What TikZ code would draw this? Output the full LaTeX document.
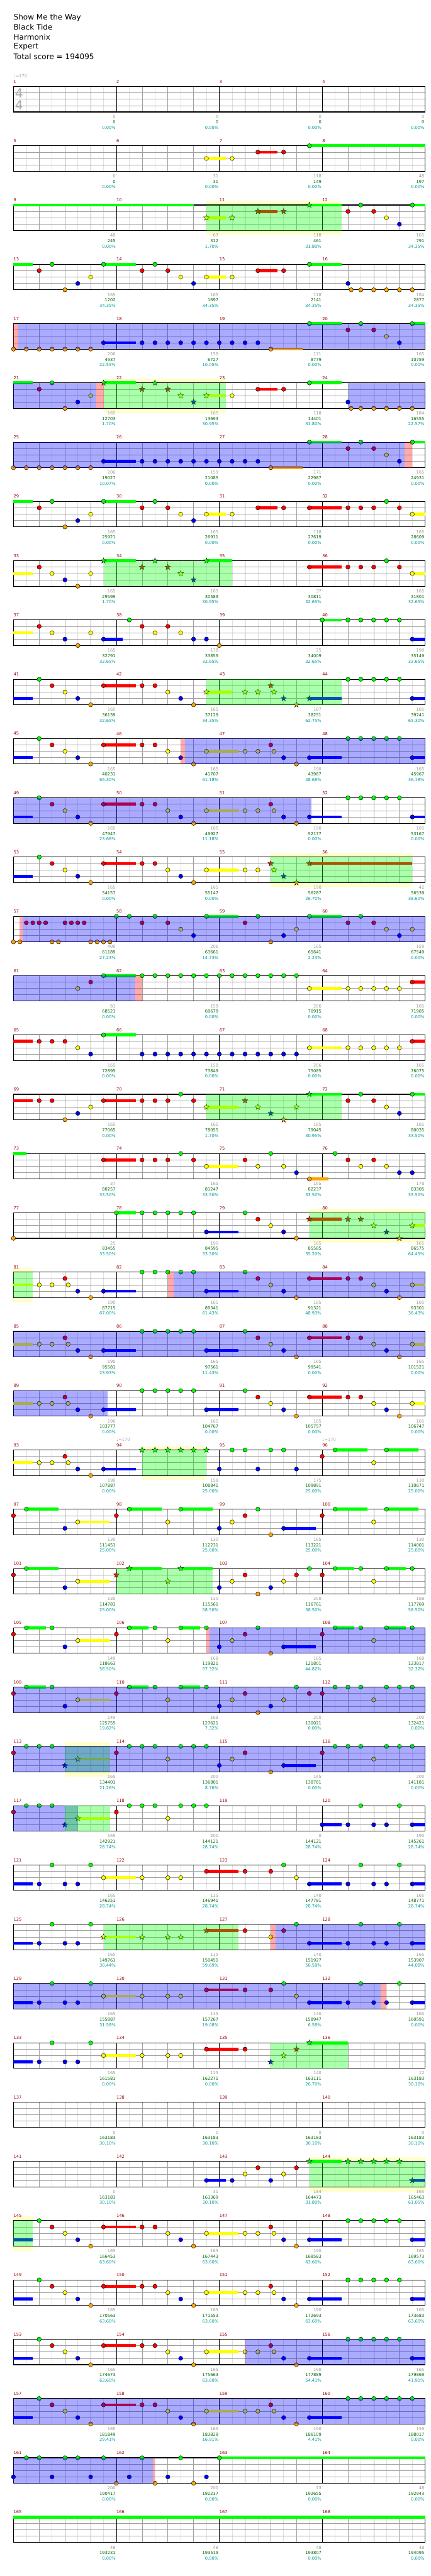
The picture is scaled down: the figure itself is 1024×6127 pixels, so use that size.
\documentclass[tikz,border=0pt]{standalone}
\usepackage{fontspec}
\setmainfont{DejaVu Sans}
\usetikzlibrary{shapes.geometric}
\definecolor{lane0}{HTML}{00FF00}
\definecolor{lane1}{HTML}{FF0000}
\definecolor{lane2}{HTML}{FFFF00}
\definecolor{lane3}{HTML}{0000FF}
\definecolor{lane4}{HTML}{FFA500}
\definecolor{phrc}{HTML}{FFFFCC}
\definecolor{mred}{HTML}{990000}
\definecolor{tgrey}{HTML}{999999}
\definecolor{tgreen}{HTML}{006600}
\definecolor{tteal}{HTML}{009999}
\definecolor{gl8}{HTML}{E0E0E0}
\definecolor{gl4}{HTML}{A0A0A0}
\definecolor{tsig}{HTML}{AAAAAA}
\tikzset{
 nt/.style={circle,draw=black,line width=0.35pt,minimum size=5pt,inner sep=0pt},
 stn/.style={star,star points=5,star point ratio=2.4,draw=black,line width=0.3pt,minimum size=7pt,inner sep=0pt},
 mlab/.style={anchor=west,inner sep=0pt,text=mred,font=\fontsize{5}{6}\selectfont},
 txg/.style={anchor=east,inner sep=0pt,text=tgrey,font=\fontsize{5}{6}\selectfont},
 txc/.style={anchor=east,inner sep=0pt,text=tgreen,font=\fontsize{5}{6}\selectfont},
 txp/.style={anchor=east,inner sep=0pt,text=tteal,font=\fontsize{5}{6}\selectfont},
 tempo/.style={anchor=west,inner sep=0pt,text=tsig,font=\fontsize{5}{6}\selectfont},
 tsg/.style={inner sep=0pt,text=tsig,font=\fontsize{15}{15}\selectfont},
 ttl/.style={anchor=west,inner sep=0pt,font=\fontsize{9}{11}\selectfont},
 phr/.style={fill=phrc},
 g8/.style={draw=gl8,line width=0.5pt},
 g4/.style={draw=gl4,line width=0.5pt},
 gm/.style={draw=black,line width=0.5pt},
 bord/.style={draw=black,line width=0.8pt}
}
\newcommand\ROW[2]{\begin{scope}[shift={(32,{205.7+141*#1})},x=15.2917pt,y=-7.575pt]#2\end{scope}}
\newcommand\STAFF{%
 \fill[white] (0,0) rectangle (32,4);
 \foreach \i in {1,3,...,31}{\draw[g8] (\i,0)--(\i,4);}
 \foreach \i in {2,4,6,10,12,14,18,20,22,26,28,30}{\draw[g4] (\i,0)--(\i,4);}
 \foreach \j in {1,2,3}{\draw[g4] (0,\j)--(32,\j);}
 \foreach \i in {8,16,24}{\draw[gm] (\i,0)--(\i,4);}
 \draw[bord] (0,0) rectangle (32,4);}
\newcommand\PH[2]{\fill[phr] (#1,-0.66) rectangle (#2,4.73);}
\newcommand\SU[1]{\foreach \xa/\xb/\la in {#1}{\fill[lane\la] (\xa,{\la-0.231}) rectangle (\xb,{\la+0.231});}}
\newcommand\NO[1]{\foreach \xe/\la in {#1}{\node[nt,fill=lane\la] at (\xe,\la) {};}}
\newcommand\SR[1]{\foreach \xe/\la in {#1}{\node[stn,fill=lane\la] at (\xe,\la) {};}}
\newcommand\OV[3]{\fill[#1,fill opacity=0.333] (#2,0) rectangle (#3,4);}
\newcommand\TX[2]{\foreach \tg/\tc/\tp [count=\k] in {#2}{%
 \pgfmathtruncatemacro\mn{#1+\k-1}%
 \node[mlab] at ({8*\k-8},-0.77) {\mn};
 \node[txg] at ({8*\k-0.05},4.77) {\tg};
 \node[txc] at ({8*\k-0.05},5.63) {\tc};
 \node[txp] at ({8*\k-0.05},6.49) {\tp\%};}}
\newcommand\TEMPO[1]{\node[tempo] at (#1,-1.63) {♩=170};}
\newcommand\PA{\SU{0/1.5/3,7/9.5/1,15/17.5/2,23/25.5/3,31/32/3}\NO{2/0,3/1,4/2,5/3,6/4,7/1,10/1,11/1,12/2,13/3,14/4,15/2,18/2,19/2,20/1,20.25/2,21/3,22/4,23/3,26/0,27/0,28/0,29/0,30/0,31/3}}
\newcommand\PB{\SU{0/1.5/2,7/9.5/3,15/17.5/3,23/25.5/1,31/32/2}\NO{2/2,3/2,4/1,4.25/2,5/3,6/4,7/3,10/0,11/0,12/0,13/0,14/0,15/3,18/0,19/1,20/2,21/3,22/4,23/1,26/1,27/1,28/2,29/3,30/4,31/2}}
\newcommand\PC{\SU{0/1.5/3,7/9.5/2,15/17.5/1,23/25.5/3,31/32/3}\NO{2/3,3/0,4/3,5/3,6/0,7/2,10/2,12/2,13/2,15/1,18/1,20/1,21/0,22/2,23/3,26/3,27/0,28/3,29/3,30/0,31/3}}
\newcommand\PD{\SU{7/9.5/3,20/22.5/4,23/25.5/0,31/32/0}\NO{0/4,1/4,2/4,3/4,4/4,5/4,6/4,7/3,10/3,11/3,12/3,13/3,14/3,15/3,16/3,17/3,18/3,19/3,20/4,23/0,26/1,27/0,28/1,29/2,30/3,31/0}}
\begin{document}
\begin{tikzpicture}[x=0.5pt,y=-0.5pt]
\fill[white] (0,0) rectangle (1024,6127);
\useasboundingbox (0,0) rectangle (1024,6127);
\node[ttl] (t1) at (32,42) {Show Me the Way};
\node[ttl] (t2) at (32,65) {Black Tide};
\node[ttl] (t3) at (32,88) {Harmonix};
\node[ttl] (t4) at (32,111) {Expert};
\node[ttl] (t5) at (32,134) {Total score = 194095};
% row 0
\ROW{0}{\STAFF \node[tsg] at (0.43,1.05) {4}; \node[tsg] at (0.43,2.95) {4}; \TEMPO{0}
 \TX{1}{0/0/0.00,0/0/0.00,0/0/0.00,0/0/0.00}}
\ROW{1}{\STAFF \SU{15/16.5/2,19/20.5/1,23/32/0}\NO{15/2,17/2,19/1,21/1,23/0}
 \TX{5}{0/0/0.00,31/31/0.00,118/149/0.00,48/197/0.00}}
\ROW{2}{\PH{15}{25.5}\STAFF \SU{0/14/0,15/16.5/2,19/20.5/1,23/25.5/0,31/32/0}
 \SR{15/2,17/2,19/1,21/1,23/0}\NO{26/1,27/0,28/1,29/2,30/3,31/0}\OV{green}{15}{25.5}
 \TX{9}{48/245/0.00,67/312/1.70,118/461/31.80,165/791/34.35}}
\ROW{3}{\STAFF \SU{0/1.5/0,7/9.5/0,15/16.5/2,19/20.5/1,23/25.5/0}
 \NO{2/1,3/0,4/4,5/3,6/2,7/0,10/1,11/0,12/1,13/2,14/3,15/2,17/2,19/1,21/1,23/0,26/3,26.25/4,27/4,28/4,29/4,30/4,31/4}
 \TX{13}{165/1202/34.35,165/1697/34.35,118/2141/34.35,184/2877/34.35}}
\ROW{4}{\STAFF \PD \OV{red}{0}{0.39}\OV{blue}{0.39}{32}
 \TX{17}{206/4937/22.55,159/6727/10.05,171/8779/0.00,165/10759/0.00}}
\ROW{5}{\PH{7}{16.5}\STAFF \SU{0/1.5/0,7/9.5/0,15/16.5/2,19/20.5/1,23/25.5/0}
 \NO{2/1,3/0,4/4,5/3,6/2,17/2,19/1,21/1,23/0,26/3,26.25/4,27/4,28/4,29/4,30/4,31/4}
 \SR{7/0,10/1,11/0,12/1,13/2,14/3,15/2}
 \OV{blue}{0}{6.43}\OV{red}{6.43}{7}\OV{green}{7}{16.5}\OV{blue}{26.04}{32}
 \TX{21}{165/12703/1.70,165/13693/30.95,118/14401/31.80,184/16555/22.57}}
\ROW{6}{\STAFF \PD \OV{blue}{0}{30.4}\OV{red}{30.4}{31}
 \TX{25}{206/19027/10.07,159/21085/0.00,171/22987/0.00,165/24931/0.00}}
\ROW{7}{\STAFF \SU{0/1.5/0,7/9.5/0,15/16.5/2,19/20.5/1,23/25.5/1,31/32/2}
 \NO{2/1,3/0,4/4,5/3,6/2,7/0,10/1,11/0,12/1,13/2,14/3,15/2,17/2,19/1,21/1,23/1,26/1,27/1,28/1,29/0,30/1,31/2}
 \TX{29}{165/25921/0.00,165/26911/0.00,118/27619/0.00,165/28609/0.00}}
\ROW{8}{\STAFF \SU{0/1.5/2,7/9.5/0,15/17/0,23/25.5/1,31/32/2}
 \NO{2/1,3/2,4/3,5/4,6/2,23/1,26/1,27/1,28/1,29/0,30/1,31/2}
 \SR{7/0,10/1,11/0,12/1,13/2,14/3,15/0}\OV{green}{7}{17}
 \TX{33}{165/29599/1.70,165/30589/30.95,37/30811/32.65,165/31801/32.65}}
\ROW{9}{\STAFF \SU{0/1.5/2,7/8.5/3,24/25.5/0,31/32/3}
 \NO{2/1,3/2,4/3,5/4,6/2,7/3,9/0,10/1,11/2,12/1,13/2,14/3,15/3,16/4,24/0,26/0,27/0,28/0,29/0,30/0,31/3}
 \TX{37}{165/32791/32.65,178/33859/32.65,25/34009/32.65,190/35149/32.65}}
\ROW{10}{\STAFF \SU{0/1.5/3,7/9.5/1,15/17/2,23/25.5/3,31/32/3}
 \NO{2/0,3/1,4/2,5/3,6/4,7/1,10/1,11/1,12/2,13/3,14/4,26/0,27/0,28/0,29/0,30/0,31/3}
 \SR{15/2,18/2,19/2,20/1,20.25/2,21/3,22/4,23/3}\OV{green}{15}{25.5}
 \TX{41}{165/36139/32.65,165/37129/34.35,187/38251/62.75,165/39241/65.30}}
\ROW{11}{\STAFF \PA \OV{red}{13}{13.34}\OV{blue}{13.34}{32}
 \TX{45}{165/40231/65.30,165/41707/61.18,190/43987/48.68,165/45967/36.18}}
\ROW{12}{\STAFF \PA \OV{blue}{0}{23.15}
 \TX{49}{165/47947/23.68,165/49927/11.18,190/52177/0.00,165/53167/0.00}}
\ROW{13}{\PH{20}{31}\STAFF \SU{0/1.5/3,7/9.5/1,15/17.5/2,23/31/1}
 \NO{2/0,3/1,4/2,5/3,6/4,7/1,10/1,11/1,12/2,13/3,14/4,15/2,18/2,19/2}
 \SR{20/1,20.25/2,21/3,22/4,23/1}\OV{green}{20}{31}
 \TX{53}{165/54157/0.00,165/55147/0.00,190/56287/26.70,42/56539/38.60}}
\ROW{14}{\STAFF \SU{15/17.5/0,23/25.5/0}
 \NO{0/4,0.5/4,1/1,1.5/1,2/1,2.5/1,3/4,3.5/4,4/1,4.5/1,5/1,5.5/1,6/4,6.5/4,7/4,7.5/4,8/0,9/0,10/1,11/0,12/1,13/2,14/3,15/0,18/1,19/0,20/4,21/3,22/2,23/0,26/1,27/0,28/1,29/2,30/3,31/2}
 \OV{red}{0.48}{0.7}\OV{blue}{0.7}{32}
 \TX{57}{400/61189/27.23,206/63661/14.73,165/65641/2.23,159/67549/0.00}}
\ROW{15}{\STAFF \SU{7/9.5/0,23/25.5/2,31/32/1}
 \NO{5/2,6/1,7/0,10/0,11/0,12/0,13/0,14/0,15/0,16/0,17/0,18/0,19/0,20/0,21/0,22/0,23/2,26/2,27/2,28/2,29/2,30/2,31/1}
 \OV{blue}{0}{9.46}\OV{red}{9.46}{10}
 \TX{61}{81/68521/0.00,159/69679/0.00,206/70915/0.00,165/71905/0.00}}
\ROW{16}{\STAFF \SU{0/1.5/1,7/9.5/0,23/25.5/2,31/32/1}
 \NO{2/1,3/1,4/1,5/2,6/3,7/0,10/3,11/3,12/3,13/3,14/3,15/3,16/3,17/3,18/3,19/3,20/3,21/3,22/3,23/2,26/2,27/2,28/2,29/2,30/2,31/1}
 \TX{65}{165/72895/0.00,159/73849/0.00,206/75085/0.00,165/76075/0.00}}
\ROW{17}{\STAFF \SU{0/1.5/1,7/9.5/1,15/17.5/2,23/25.5/0,31/32/0}
 \NO{2/1,3/1,4/4,5/3,6/2,7/1,10/1,11/1,12/1,13/0,14/1,26/1,27/0,28/1,29/2,30/3,31/0}
 \SR{15/2,18/1,19/2,20/3,21/4,22/2,23/0}\OV{green}{15}{25.5}
 \TX{69}{165/77065/0.00,165/78055/1.70,165/79045/30.95,165/80035/33.50}}
\ROW{18}{\STAFF \SU{0/1/0,7/9.5/1,15/17.5/2,23/24.5/4}
 \NO{7/1,10/1,11/1,12/1,13/0,14/1,15/2,18/1,19/2,20/0,21/2,22/3,23/4,25/0,26/1,27/2,28/1,29/2,30/3,31/3}
 \TX{73}{37/80257/33.50,165/81247/33.50,165/82237/33.50,178/83305/33.50}}
\ROW{19}{\PH{23}{32}\STAFF \SU{8/9.5/0,15/17.5/3,23/25.5/1,31/32/2}
 \NO{0/4,8/0,10/0,11/0,12/0,13/0,14/0,15/3,18/0,19/1,20/2,21/3,22/4}
 \SR{23/1,26/1,27/1,28/2,29/3,30/4,31/2}\OV{green}{23}{32}
 \TX{77}{25/83455/33.50,190/84595/33.50,165/85585/35.20,165/86575/64.45}}
\ROW{20}{\PH{0}{1.5}\STAFF \PB \OV{green}{0}{1.5}\OV{red}{12}{12.45}\OV{blue}{12.45}{32}
 \TX{81}{190/87715/67.00,165/89341/61.43,165/91321/48.93,165/93301/36.43}}
\ROW{21}{\STAFF \PB \OV{blue}{0}{32}
 \TX{85}{190/95581/23.93,165/97561/11.43,165/99541/0.00,165/101521/0.00}}
\ROW{22}{\STAFF \PB \OV{blue}{0}{7.3}
 \TX{89}{190/103777/0.00,165/104767/0.00,165/105757/0.00,165/106747/0.00}}
\ROW{23}{\PH{10}{15}\STAFF \SU{0/1.5/2,7/9.5/3,25/27.5/0,29/31.5/0}
 \NO{2/2,3/2,4/1,4.25/2,5/3,6/4,7/3,16/3,17/0,18/0,19/3,20/0,21/0,22/3,24/1,25/0,28/2,29/0}
 \SR{10/0,11/0,12/0,13/0,14/0,15/0}\OV{green}{10}{15}\TEMPO{8}\TEMPO{24}
 \TX{93}{190/107887/0.00,159/108841/25.00,175/109891/25.00,130/110671/25.00}}
\ROW{24}{\STAFF \SU{1/3.5/0,5/7.5/2,9/11.5/0,13/15.5/0,21/23.5/3,25/27.5/0,29/31.5/0}
 \NO{0/1,1/0,4/3,5/2,8/1,9/0,12/2,13/0,16/3,17/2,18/1,19/0,20/4,21/3,24/1,25/0,28/2,29/0}
 \TX{97}{130/111451/25.00,130/112231/25.00,165/113221/25.00,130/114001/25.00}}
\ROW{25}{\STAFF \SU{1/3.5/0,5/7.5/2,9/11.5/0,13/15.5/0,25/26.5/0,29/30.5/0}
 \NO{0/1,1/0,4/3,5/2,16/3,17/2,18/1,19/4,20/3,21/2,22/1,23/0,24/1,25/0,27/0,28/2,29/0,31/0}
 \SR{8/1,9/0,12/2,13/0}\OV{green}{8}{15.5}
 \TX{101}{130/114781/25.00,130/115561/58.50,200/116761/58.50,168/117769/58.50}}
\ROW{26}{\STAFF \SU{1/2.5/0,5/7.5/2,9/10.5/0,13/14.5/0,21/23.5/3,25/26.5/0,29/30.5/0}
 \NO{0/1,1/0,3/0,4/3,5/2,8/1,9/0,11/0,12/2,13/0,15/0,16/3,17/2,18/1,19/0,20/4,21/3,24/1,25/0,27/0,28/2,29/0,31/0}
 \OV{red}{15.02}{15.24}\OV{blue}{15.24}{32}
 \TX{105}{149/118663/58.50,168/119821/57.32,165/121801/44.82,168/123817/32.32}}
\ROW{27}{\STAFF \SU{1/2.5/0,5/7.5/2,9/10.5/0,13/14.5/0}
 \NO{0/1,1/0,3/0,4/3,5/2,8/1,9/0,11/0,12/2,13/0,15/0,16/3,17/2,18/1,19/4,20/3,21/2,22/0,23/1,24/1,25/0,26/0,27/0,28/2,29/0,30/0,31/0}
 \OV{blue}{0}{32}
 \TX{109}{149/125755/19.82,168/127621/7.32,200/130021/0.00,200/132421/0.00}}
\ROW{28}{\PH{4}{7.5}\STAFF \SU{5/7.5/2,21/23.5/3}
 \NO{0/1,1/0,2/0,3/0,8/1,9/0,10/0,11/0,12/2,13/0,14/0,15/0,16/3,17/2,18/1,20/4,21/3,24/1,25/0,26/0,27/0,28/2,29/0,30/0,31/0}
 \SR{4/3,5/2}\OV{green}{4}{7.5}\OV{blue}{0}{32}
 \TX{113}{165/134401/21.26,200/136801/8.76,165/138781/0.00,200/141181/0.00}}
\ROW{29}{\STAFF \SU{5/7.5/2,24/25.5/3,31/32/3}
 \NO{0/1,1/0,2/0,3/0,8/1,9/0,10/0,11/0,12/2,13/0,14/0,15/0,24/3,26/3,27/0,28/3,29/3,30/0,31/3}
 \SR{4/3,5/2}\OV{blue}{0}{5}\OV{green}{4}{7.5}
 \TX{117}{165/142921/28.74,200/144121/28.74,0/144121/28.74,190/145261/28.74}}
\ROW{30}{\STAFF \PC
 \TX{121}{165/146251/28.74,115/146941/28.74,140/147781/28.74,165/148771/28.74}}
\ROW{31}{\STAFF \SU{0/1.5/3,7/9.5/2,15/17.5/1,23/25.5/3,31/32/3}
 \NO{2/3,3/0,4/3,5/3,6/0,18/1,20/2,21/1,22/0,23/3,26/3,27/0,28/3,29/3,30/0,31/3}
 \SR{7/2,10/2,12/2,13/2,15/1}\OV{green}{7}{17.5}\OV{red}{20}{20.36}\OV{blue}{20.36}{32}
 \TX{125}{165/149761/30.44,115/150451/59.69,140/151927/56.58,165/153907/44.08}}
\ROW{32}{\STAFF \PC \OV{blue}{0}{28.56}\OV{red}{28.56}{29}
 \TX{129}{165/155887/31.58,115/157267/19.08,140/158947/6.58,165/160591/0.00}}
\ROW{33}{\STAFF \SU{0/1.5/3,7/9.5/2,15/17.5/1,23/26/0}
 \NO{2/3,3/0,4/3,5/3,6/0,7/2,10/2,12/2,13/2,15/1,18/1}
 \SR{20/3,21/2,22/1,23/0}\OV{green}{20}{26}
 \TX{133}{165/161581/0.00,115/162271/0.00,140/163111/26.70,12/163183/30.10}}
\ROW{34}{\STAFF
 \TX{137}{0/163183/30.10,0/163183/30.10,0/163183/30.10,0/163183/30.10}}
\ROW{35}{\PH{23}{32}\STAFF \SU{15/16.5/3,23/25.5/0,31/32/3}
 \NO{15/3,17/3,18/2,19/1,20/3,21/2,22/1}
 \SR{23/0,26/0,27/0,28/0,29/0,30/0,31/3}\OV{green}{23}{32}
 \TX{141}{0/163183/30.10,31/163369/30.10,184/164473/31.80,165/165463/61.05}}
\ROW{36}{\PH{0}{1.5}\STAFF \PA \OV{green}{0}{1.5}
 \TX{145}{165/166453/63.60,165/167443/63.60,190/168583/63.60,165/169573/63.60}}
\ROW{37}{\STAFF \PA
 \TX{149}{165/170563/63.60,165/171553/63.60,190/172693/63.60,165/173683/63.60}}
\ROW{38}{\STAFF \PA \OV{red}{17.97}{18.03}\OV{blue}{18.03}{32}
 \TX{153}{165/174673/63.60,165/175663/63.60,190/177889/54.41,165/179869/41.91}}
\ROW{39}{\STAFF \SU{0/1.5/3,7/9.5/1,15/17.5/2,23/25.5/3}
 \NO{2/0,3/1,4/2,5/3,6/4,7/1,10/1,11/1,12/2,13/3,14/4,15/2,18/2,19/2,20/1,20.25/2,21/3,22/4,23/3,26/0,27/0,28/0,29/0,30/0,31/0}
 \OV{blue}{0}{32}
 \TX{157}{165/181849/29.41,165/183829/16.91,190/186109/4.41,159/188017/0.00}}
\ROW{40}{\STAFF \SU{16/32/0}
 \NO{0/3,1/0,2/0,3/3,4/0,5/0,6/3,7/0,8/4,9/3,10/0,11/4,12/3,13/0,14/4,15/3,16/0}
 \OV{blue}{0}{10.83}\OV{red}{10.83}{11}
 \TX{161}{200/190417/0.00,200/192217/0.00,73/192655/0.00,48/192943/0.00}}
\ROW{41}{\STAFF \SU{0/32/0}
 \TX{165}{48/193231/0.00,48/193519/0.00,48/193807/0.00,48/194095/0.00}}
\end{tikzpicture}
\end{document}
